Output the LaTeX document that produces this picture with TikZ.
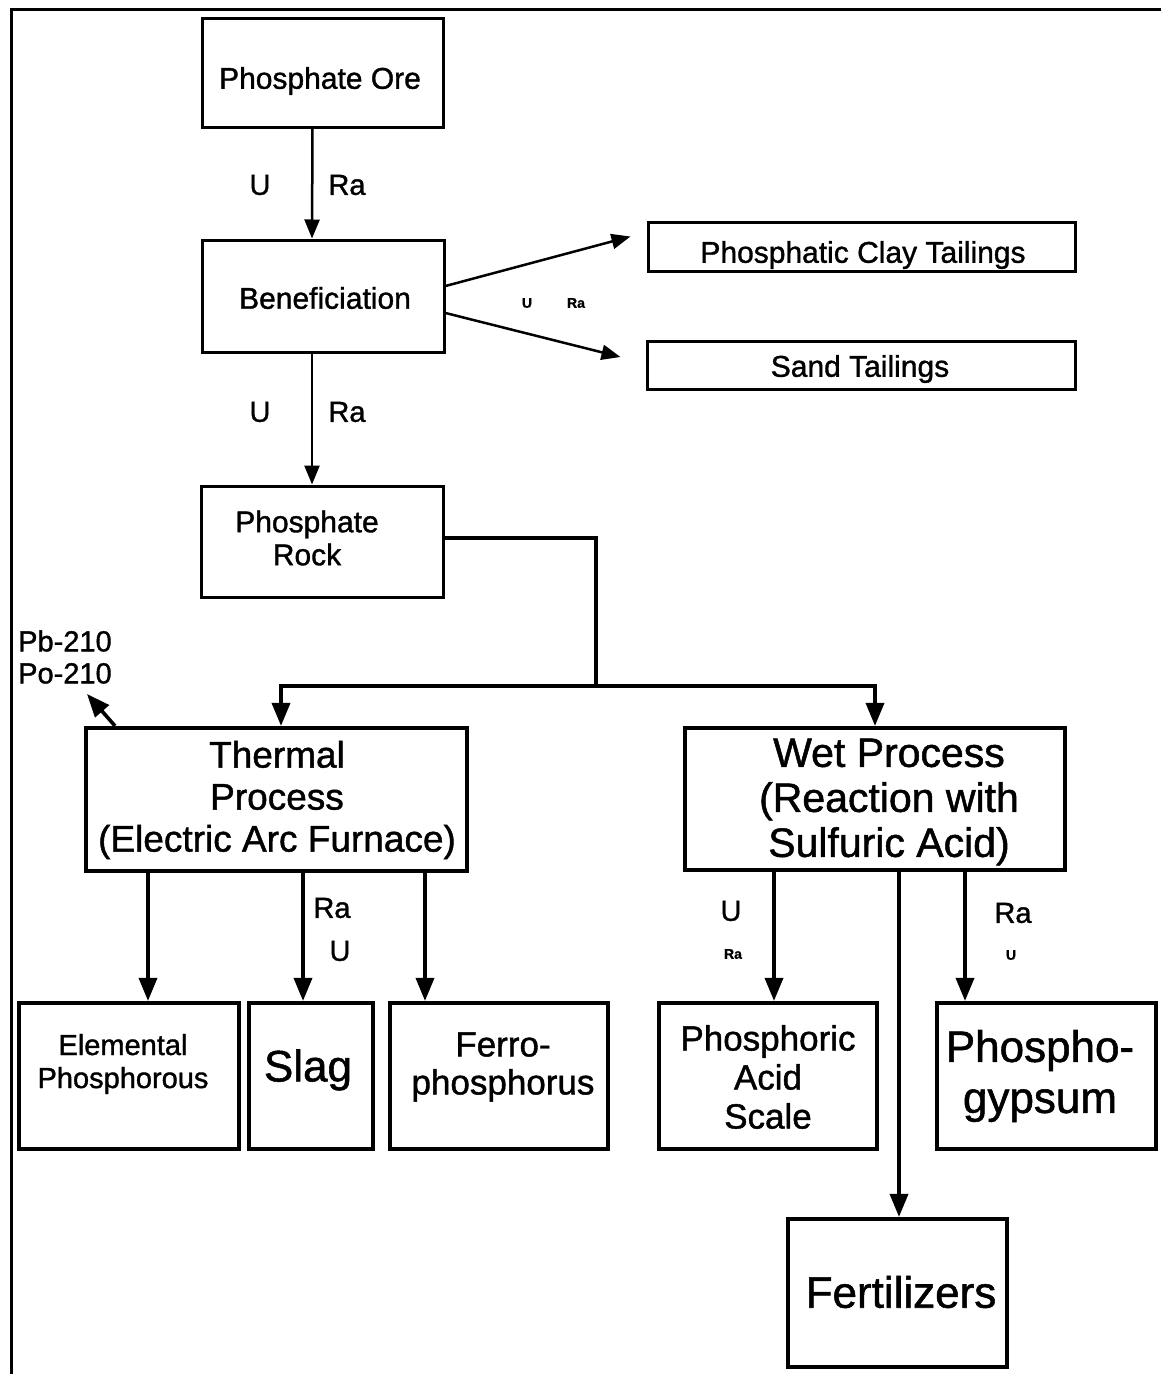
\documentclass[tikz,border=0pt]{standalone}
\usepackage{fontspec}
\setmainfont{Liberation Sans}[FakeBold=1.2]
\usetikzlibrary{arrows.meta}
\begin{document}
\begin{tikzpicture}[x=1pt,y=-1pt,
  box/.style={draw, line width=3pt, inner sep=0pt},
  bbox/.style={draw, line width=4.2pt, inner sep=0pt},
  txt/.style={inner sep=0pt, align=center},
  flow/.style={line width=2.5pt, -{Triangle[length=19pt,width=15pt]}},
  bflow/.style={line width=3.6pt, -{Triangle[length=23pt,width=18pt]}},
  lab/.style={inner sep=0pt, font=\fontsize{29}{33}\selectfont},
  small/.style={inner sep=0pt, font=\bfseries\fontsize{14}{16}\selectfont},
  f30/.style={font=\fontsize{30}{33}\selectfont},
]
\useasboundingbox (0,0) rectangle (1161,1374);
\fill[white] (0,0) rectangle (1161,1374);
% frame
\draw[line width=3pt] (11,1374) -- (11,9) -- (1161,9);

% top boxes
\node[box, minimum width=241pt, minimum height=109pt] (ore) at (322.5,72.5) {};
\node[txt, f30] (oret) at (320,81) {Phosphate Ore};
\node[box, minimum width=242pt, minimum height=112pt] (ben) at (323,296) {};
\node[txt, f30] (bent) at (325,298) {Beneficiation};
\node[box, minimum width=427pt, minimum height=49pt] (clay) at (861.5,246.5) {};
\node[txt, f30] (clayt) at (863,255) {Phosphatic Clay Tailings};
\node[box, minimum width=428pt, minimum height=48pt] (sand) at (861,365) {};
\node[txt, f30] (sandt) at (860,369) {Sand Tailings};
\node[box, minimum width=242pt, minimum height=111pt] (rock) at (322,541.5) {};
\node[txt, font=\fontsize{30}{33}\selectfont] (rockt) at (307,538) {Phosphate\\Rock};

% process boxes
\node[bbox, minimum width=381pt, minimum height=143pt] (th) at (276.5,799.5) {};
\node[txt, font=\fontsize{37}{42}\selectfont] (tht) at (277,800) {Thermal\\Process\\(Electric Arc Furnace)};
\node[bbox, minimum width=380pt, minimum height=142pt] (wet) at (875,799) {};
\node[txt, font=\fontsize{41}{45}\selectfont] (wett) at (889,802) {Wet Process\\(Reaction with\\Sulfuric Acid)};

% product boxes
\node[bbox, minimum width=220pt, minimum height=146pt] (elem) at (129,1076) {};
\node[txt, font=\fontsize{29}{33}\selectfont] (elemt) at (123,1064) {Elemental\\Phosphorous};
\node[bbox, minimum width=124pt, minimum height=146pt] (slag) at (311,1076) {};
\node[txt, font=\fontsize{44}{48}\selectfont] (slagt) at (308,1070) {Slag};
\node[bbox, minimum width=218pt, minimum height=146pt] (ferro) at (499,1076) {};
\node[txt, font=\fontsize{35}{38}\selectfont] (ferrot) at (503,1067) {Ferro-\\phosphorus};
\node[bbox, minimum width=218pt, minimum height=146pt] (pas) at (768,1076) {};
\node[txt, font=\fontsize{35}{39}\selectfont] (past) at (768,1077) {Phosphoric\\Acid\\Scale};
\node[bbox, minimum width=219pt, minimum height=146pt] (gyps) at (1046.5,1076) {};
\node[txt, font=\fontsize{44}{51}\selectfont] (gypst) at (1040,1076) {Phospho-\\gypsum};
\node[bbox, minimum width=219pt, minimum height=148pt] (fert) at (897.5,1293) {};
\node[txt, font=\fontsize{44}{48}\selectfont] (fertt) at (901,1292) {Fertilizers};

% Pb/Po label
\node[txt, anchor=west, align=left, font=\fontsize{29}{32}\selectfont] (pb) at (18,657) {Pb-210\\Po-210};
\coordinate (pbtip) at (87,694);

% connectors
\draw[flow] ([xshift=-10pt]ore.south) -- ([xshift=-11pt]ben.north);
\draw[flow] ([yshift=10pt]ben.east) -- ([xshift=-16pt,yshift=10pt]clay.west);
\draw[flow] ([yshift=-17pt]ben.east) -- ([xshift=-25pt,yshift=8pt]sand.west);
\draw[flow] ([xshift=-11pt]ben.south) -- ([xshift=-10pt]rock.north);

\coordinate (split) at (596,686);
\draw[line width=3.6pt] ([yshift=3.5pt]rock.east) -| (split);
\draw[bflow] (split) -| ([xshift=4.5pt]th.north);
\draw[bflow] (split) -| (wet.north);
\draw[bflow] ([xshift=-161.5pt]th.north) -- (pbtip);

\draw[bflow] ([xshift=-128.5pt]th.south) -- ([xshift=19pt]elem.north);
\draw[bflow] ([xshift=26.5pt]th.south) -- ([xshift=-8pt]slag.north);
\draw[bflow] ([xshift=148.5pt]th.south) -- ([xshift=-74pt]ferro.north);

\draw[bflow] ([xshift=-101pt]wet.south) -- ([xshift=6pt]pas.north);
\draw[bflow] ([xshift=24pt]wet.south) -- ([xshift=1.5pt]fert.north);
\draw[bflow] ([xshift=90pt]wet.south) -- ([xshift=-81.5pt]gyps.north);

% labels
\node[lab] (l1) at (260,185) {U};
\node[lab] (l2) at (347,185) {Ra};
\node[lab] (l3) at (260,412) {U};
\node[lab] (l4) at (347,412) {Ra};
\node[small] (l5) at (527,303) {U};
\node[small] (l6) at (576,303) {Ra};
\node[lab] (l7) at (332,908) {Ra};
\node[lab] (l8) at (340,951) {U};
\node[lab] (l9) at (731,911) {U};
\node[small] (l10) at (733,954) {Ra};
\node[lab] (l11) at (1013,913) {Ra};
\node[small] (l12) at (1011,955) {U};
\end{tikzpicture}
\end{document}
